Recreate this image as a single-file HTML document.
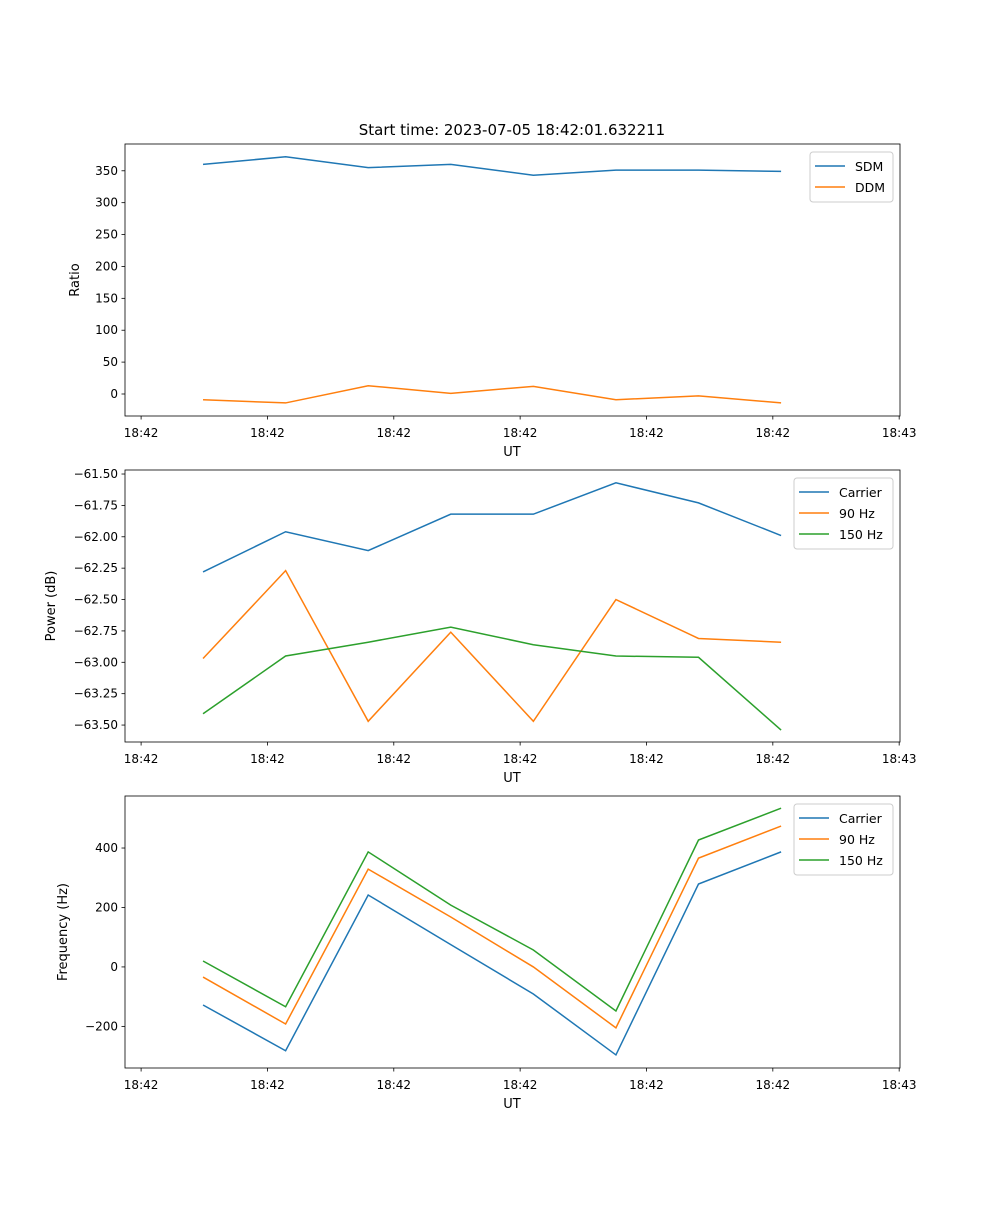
<!DOCTYPE html>
<html><head><meta charset="utf-8"><style>
body{margin:0;background:#fff}
svg{font-family:"DejaVu Sans","Liberation Sans",sans-serif}
</style></head><body>
<svg id="fig" width="1000" height="1200" xmlns="http://www.w3.org/2000/svg">
<text x="512" y="135" font-size="15" text-anchor="middle">Start time: 2023-07-05 18:42:01.632211</text>
</svg>
<script>
const xTickPos = [-0.75, 0.78, 2.31, 3.84, 5.37, 6.90, 8.43];
const xTickLabels = ["18:42","18:42","18:42","18:42","18:42","18:42","18:43"];
const sdm = [360, 372, 355, 360, 343, 351, 351, 349];
const ddm = [-9, -14, 13, 1, 12, -9, -3, -14];
const pwrCarrier = [-62.28, -61.96, -62.11, -61.82, -61.82, -61.57, -61.73, -61.99];
const pwr90 = [-62.97, -62.27, -63.47, -62.76, -63.47, -62.50, -62.81, -62.84];
const pwr150 = [-63.41, -62.95, -62.84, -62.72, -62.86, -62.95, -62.96, -63.54];
const frqCarrier = [-128, -282, 242, 75, -91, -296, 279, 387];
const frq90 = [-34, -192, 329, 168, 0, -205, 366, 474];
const frq150 = [20, -134, 387, 208, 57, -148, 427, 534];
const ticks1 = [0,50,100,150,200,250,300,350];
const ticks2 = [-63.5,-63.25,-63.0,-62.75,-62.5,-62.25,-62.0,-61.75,-61.5];
const ticks3 = [-200,0,200,400];

const svg = document.getElementById('fig');
const NS = 'http://www.w3.org/2000/svg';
const L=125,R=900, xmin=-0.945, xmax=8.44;
const xs = v => L + (v-xmin)/(xmax-xmin)*(R-L);
function mk(tag, attrs, parent){const e=document.createElementNS(NS,tag);for(const k in attrs)e.setAttribute(k,attrs[k]);(parent||svg).appendChild(e);return e;}
const colors=['#1f77b4','#ff7f0e','#2ca02c'];
function panel(key, top, bot, ymin, ymax, yticks, fmt, ylabel, series, names, legX, legW){
  const ys = v => bot - (v-ymin)/(ymax-ymin)*(bot-top);
  const g = mk('g',{});
  
  
  series.forEach((s,si)=>{
    const p = mk('polyline',{points:s.map((v,i)=>xs(i)+','+ys(v)).join(' '),fill:'none',stroke:colors[si],'stroke-width':1.5},g);
    
    
  });
  mk('rect',{x:L,y:top,width:R-L,height:bot-top,fill:'none',stroke:'#000','stroke-width':0.8},g);
  xTickPos.forEach((t,i)=>{const x=xs(t);mk('line',{x1:x,x2:x,y1:bot,y2:bot+3.5,stroke:'#000','stroke-width':0.8},g);
    const tx=mk('text',{x:x,y:bot+21,'font-size':12,'text-anchor':'middle'},g);tx.textContent=xTickLabels[i];
    
    });
  yticks.forEach(t=>{const y=ys(t);mk('line',{x1:L-3.5,x2:L,y1:y,y2:y,stroke:'#000','stroke-width':0.8},g);
    const tx=mk('text',{x:L-7,y:y+4,'font-size':12,'text-anchor':'end'},g);tx.textContent=fmt(t);
    
    });
  const xl=mk('text',{x:512,y:bot+40,'font-size':13,'text-anchor':'middle'},g);xl.textContent='UT';
  
  
  const yc=(top+bot)/2, yx = key==='ratio'?79:(key==='power'?55:67);
  const yl=mk('text',{x:yx,y:yc,'font-size':13,'text-anchor':'middle',transform:`rotate(-90 ${yx} ${yc})`},g);yl.textContent=ylabel;
  
  
  const lg=mk('g',{},g);
  
  
  mk('rect',{x:legX,y:top+8,width:legW,height:names.length*21+8,rx:3,fill:'#fff','fill-opacity':0.8,stroke:'#ccc'},lg);
  names.forEach((n,i)=>{const y=top+8+14+i*21;
    mk('line',{x1:legX+5,x2:legX+35,y1:y,y2:y,stroke:colors[i],'stroke-width':1.5},lg);
    const t=mk('text',{x:legX+45,y:y+5,'font-size':12.5},lg);t.textContent=n;
    
    });
}
panel('ratio',144,416,-34.5,392,ticks1,t=>String(t),'Ratio',[sdm,ddm],['SDM','DDM'],810,83);
panel('power',470,742,-63.635,-61.468,ticks2,t=>'\u2212'+Math.abs(t).toFixed(2),'Power (dB)',[pwrCarrier,pwr90,pwr150],['Carrier','90 Hz','150 Hz'],794,99);
panel('freq',796,1068,-340,575,ticks3,t=>(t<0?'\u2212':'')+Math.abs(t),'Frequency (Hz)',[frqCarrier,frq90,frq150],['Carrier','90 Hz','150 Hz'],794,99);
</script>
</body></html>
